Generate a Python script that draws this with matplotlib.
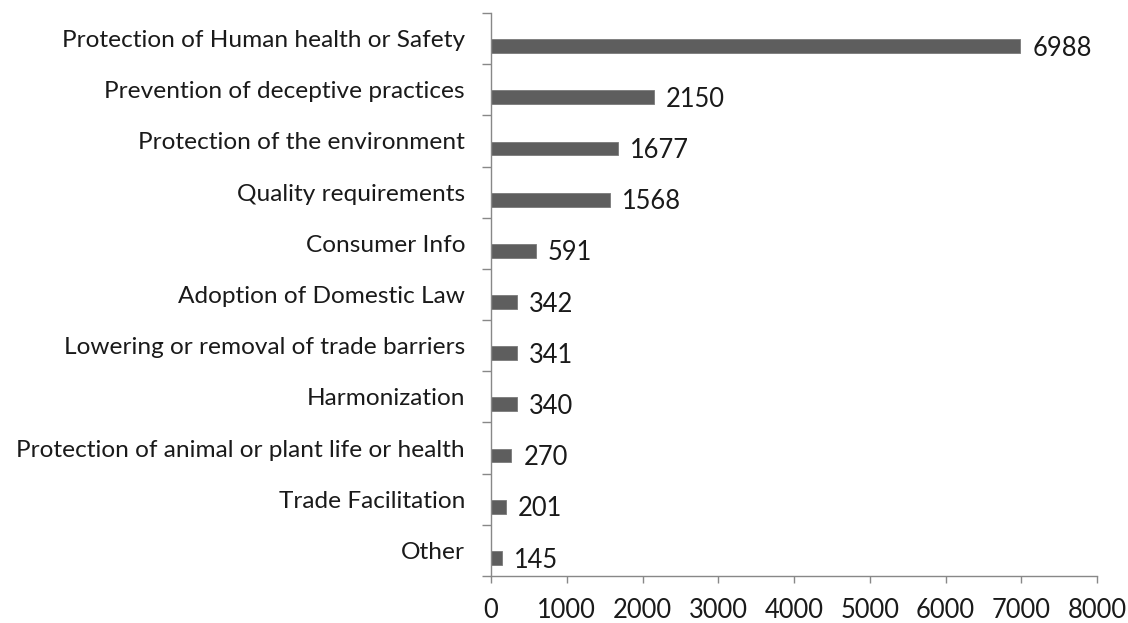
import matplotlib
matplotlib.use("Agg")
import matplotlib.pyplot as plt
import numpy as np

categories = [
    "Protection of Human health or Safety",
    "Prevention of deceptive practices",
    "Protection of the environment",
    "Quality requirements",
    "Consumer Info",
    "Adoption of Domestic Law",
    "Lowering or removal of trade barriers",
    "Harmonization",
    "Protection of animal or plant life or health",
    "Trade Facilitation",
    "Other",
]
values = [6988, 2150, 1677, 1568, 591, 342, 341, 340, 270, 201, 145]
x_ticks = [0, 1000, 2000, 3000, 4000, 5000, 6000, 7000, 8000]

plt.rcParams['font.family'] = ['Lato', 'DejaVu Sans']
FS_CAT = 17.6
FS_NUM = 18.4

fig = plt.figure(figsize=(11.28, 6.23), dpi=100)
ax = fig.add_axes([491/1128, 1 - 576/623, (1097-491)/1128, (576-13)/623])

bar_color = "#5e5e5e"
axis_color = "#888888"
pos = np.arange(len(categories))
ax.barh(pos + 0.146, values, height=0.27, color=bar_color, edgecolor="#7a7a7a", linewidth=0.6)

for p, v in zip(pos, values):
    ax.annotate(f"{v}", xy=(v, p + 0.146), xytext=(12*0.72, -2.2*0.72),
                textcoords="offset points", ha="left", va="center",
                fontsize=FS_NUM, color="#1a1a1a")

ax.set_xlim(0, 8000)
ax.set_ylim(len(categories) - 0.5, -0.5)
ax.set_xticks(x_ticks)
ax.set_xticklabels([str(t) for t in x_ticks])
ax.set_yticks(pos)
ax.set_yticklabels(categories)
ax.set_yticks(np.arange(-0.5, len(categories)), minor=True)

ax.tick_params(axis='y', which='major', length=0, pad=26*0.72, labelsize=FS_CAT, labelcolor="#1a1a1a")
ax.tick_params(axis='y', which='minor', length=9*0.72, width=1, color=axis_color, direction='out')
ax.tick_params(axis='x', which='major', length=7*0.72, width=1, color=axis_color, direction='out',
               pad=15*0.72, labelsize=FS_NUM, labelcolor="#1a1a1a")

for s in ['top', 'right']:
    ax.spines[s].set_visible(False)
for s in ['left', 'bottom']:
    ax.spines[s].set_color(axis_color)
    ax.spines[s].set_linewidth(1)

fig.savefig("out.png", dpi=100)
